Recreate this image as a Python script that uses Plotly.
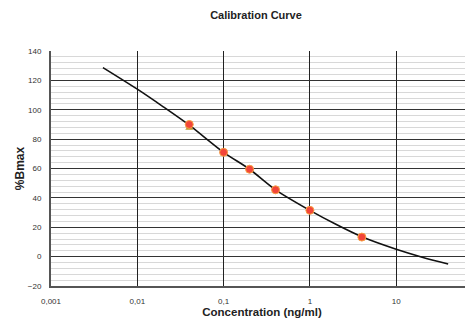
import plotly.graph_objects as go

# Calibration standards (ng/ml, %Bmax)
std_conc = [0.04, 0.1, 0.2, 0.4, 1, 4]
std_bmax = [90, 71, 59.5, 45.5, 31.5, 13.3]

# replicate marker visible under the first point
rep_conc = [0.04]
rep_bmax = [87.5]

# fitted curve
curve_conc = [0.004, 0.01, 0.02, 0.04, 0.1, 0.2, 0.4, 1, 2, 4, 10, 20, 40]
curve_bmax = [128.7, 114, 102, 89.5, 71, 59.5, 45.5, 31.5, 22, 13.5, 5, -0.4, -5]

tick_vals = [0.001, 0.01, 0.1, 1, 10]
tick_text = ["0,001", "0,01", "0,1", "1", "10"]

font = "Liberation Sans, Arial, sans-serif"

# page body has an 8px default margin; size the figure to compensate
W, H = 465, 312

fig = go.Figure()
fig.add_trace(go.Scatter(x=curve_conc, y=curve_bmax, mode="lines",
                         line=dict(color="#111111", width=1.6, shape="spline",
                                   smoothing=0.8),
                         showlegend=False, hoverinfo="skip"))
fig.add_trace(go.Scatter(x=rep_conc, y=rep_bmax, mode="markers",
                         marker=dict(color="#b89a2a", size=7, symbol="triangle-up"),
                         showlegend=False))
fig.add_trace(go.Scatter(x=std_conc, y=std_bmax, mode="markers",
                         marker=dict(color="#f2453a", size=8,
                                     line=dict(color="#f7a040", width=1)),
                         showlegend=False))

fig.update_layout(
    width=W, height=H,
    margin=dict(l=43, r=0, t=43, b=34),
    paper_bgcolor="white", plot_bgcolor="white",
    font=dict(family=font, color="#333333", size=8),
    title=dict(text="<b>Calibration Curve</b>", x=(256 - 8) / W, xanchor="center",
               y=1 - (15 - 8) / H, yanchor="middle",
               font=dict(size=11, color="#222222", family=font)),
    xaxis=dict(type="log", range=[-3, 1.89],
               tickvals=tick_vals, ticktext=tick_text,
               showgrid=True, gridcolor="#222222", gridwidth=1.4,
               showline=True, linecolor="#555555", linewidth=2,
               ticks="outside", ticklen=0, ticklabelstandoff=6,
               tickfont=dict(size=8, color="#333333"),
               zeroline=False,
               title=dict(text="<b>Concentration (ng/ml)</b>", standoff=2,
                          font=dict(size=11.5, color="#222222", family=font))),
    yaxis=dict(range=[-20, 140], dtick=20,
               showgrid=True, gridcolor="#333333", gridwidth=1,
               minor=dict(dtick=4, showgrid=True, gridcolor="#d8d8d8", gridwidth=1),
               showline=True, linecolor="#555555", linewidth=2,
               ticks="outside", ticklen=0, ticklabelstandoff=6,
               tickfont=dict(size=8, color="#333333"),
               zeroline=False,
               title=dict(text="<b>%Bmax</b>", standoff=1,
                          font=dict(size=12, color="#222222", family=font))),
)

fig.write_html("out.html")
